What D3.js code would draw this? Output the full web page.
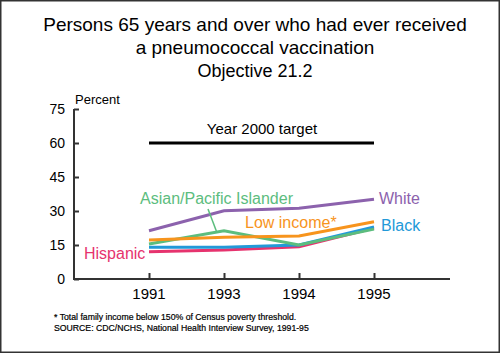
<!DOCTYPE html>
<html>
<head>
<meta charset="utf-8">
<script src="https://cdn.jsdelivr.net/npm/d3@7"></script>
<style>
  body { margin: 0; background: #fff; }
  svg { display: block; font-family: "Liberation Sans", Arial, Helvetica, sans-serif; }
</style>
</head>
<body>
<svg id="chart" width="500" height="353"></svg>
<script>
const years = ["1991", "1993", "1994", "1995"]
const yTicks = [0, 15, 30, 45, 60, 75]
const target = 60

const white = [21.3, 30.1, 31.2, 35.2]
const lowIncome = [17.2, 18.4, 19, 25.3]
const asianPI = [15.4, 21.3, 15, 22]
const black = [14, 14, 15, 23]
const hispanic = [12, 12.8, 14.2, 22.5]

const series = [
  { name: "Hispanic", values: hispanic, color: "#e6336e" },
  { name: "Black", values: black, color: "#2299d8" },
  { name: "Asian/Pacific Islander", values: asianPI, color: "#5cbd7e" },
  { name: "Low income*", values: lowIncome, color: "#f7941d" },
  { name: "White", values: white, color: "#8c62ad" }
]

const svg = d3.select("#chart")

// frame
svg.append("rect")
  .attr("x", 0.75).attr("y", 0.75)
  .attr("width", 498.5).attr("height", 351.5)
  .attr("fill", "none").attr("stroke", "#333").attr("stroke-width", 1.5)

// titles
svg.append("text").attr("x", 255).attr("y", 31).attr("text-anchor", "middle")
  .attr("font-size", 19).text("Persons 65 years and over who had ever received")
svg.append("text").attr("x", 255).attr("y", 54).attr("text-anchor", "middle")
  .attr("font-size", 19).text("a pneumococcal vaccination")
svg.append("text").attr("x", 255).attr("y", 77).attr("text-anchor", "middle")
  .attr("font-size", 18).text("Objective 21.2")

const x = d3.scalePoint().domain(years).range([149, 374])
const y = d3.scaleLinear().domain([0, 75]).range([279, 109])

// y axis
const yAxis = svg.append("g")
  .attr("transform", "translate(74,0)")
  .call(d3.axisRight(y).tickValues(yTicks).tickSize(5).tickFormat(""))
yAxis.select(".domain").attr("stroke", "#333").attr("stroke-width", 2)
  .attr("d", "M0," + y(75) + "V" + (y(0) + 1))
yAxis.selectAll(".tick line").attr("stroke", "#333").attr("stroke-width", 2)

svg.selectAll(".ylab")
  .data(yTicks)
  .enter().append("text")
    .attr("class", "ylab")
    .attr("x", 65)
    .attr("y", d => y(d) + 5)
    .attr("text-anchor", "end")
    .attr("font-size", 14)
    .text(d => d)

svg.append("text").attr("x", 75).attr("y", 104).attr("font-size", 13).text("Percent")

// x axis
const xAxis = svg.append("g")
  .attr("transform", "translate(0," + y(0) + ")")
  .call(d3.axisTop(x).tickSize(6).tickFormat(""))
xAxis.select(".domain").attr("stroke", "#333").attr("stroke-width", 2)
  .attr("d", "M73,0H450")
xAxis.selectAll(".tick line").attr("stroke", "#333").attr("stroke-width", 2)

svg.selectAll(".xlab")
  .data(years)
  .enter().append("text")
    .attr("class", "xlab")
    .attr("x", d => x(d))
    .attr("y", 299)
    .attr("text-anchor", "middle")
    .attr("font-size", 15)
    .text(d => d)

// target
svg.append("line")
  .attr("x1", x("1991")).attr("x2", x("1995"))
  .attr("y1", y(target)).attr("y2", y(target))
  .attr("stroke", "#000").attr("stroke-width", 3)
svg.append("text").attr("x", 262).attr("y", 134).attr("text-anchor", "middle")
  .attr("font-size", 15).text("Year 2000 target")

// lines
const line = d3.line().x((d, i) => x(years[i])).y(d => y(d))
svg.selectAll(".series")
  .data(series)
  .enter().append("path")
    .attr("class", "series")
    .attr("d", d => line(d.values))
    .attr("fill", "none")
    .attr("stroke", d => d.color)
    .attr("stroke-width", 3)

// labels
const labelPos = {
  "White": [379, 204],
  "Black": [381, 231],
  "Low income*": [245, 228],
  "Asian/Pacific Islander": [140, 204],
  "Hispanic": [84, 259]
}
series.forEach(s => {
  const p = labelPos[s.name]
  svg.append("text")
    .attr("x", p[0]).attr("y", p[1])
    .attr("font-size", 16).attr("fill", s.color)
    .text(s.name)
})

// leader for Asian/Pacific Islander
svg.append("line")
  .attr("x1", 208).attr("y1", 209).attr("x2", 217).attr("y2", y(asianPI[1]) + 2)
  .attr("stroke", "#5cbd7e").attr("stroke-width", 1.5)

// notes
svg.append("text").attr("x", 54).attr("y", 320).attr("font-size", 8.7)
  .attr("fill", "#000").attr("stroke", "#000").attr("stroke-width", 0.2)
  .text("* Total family income below 150% of Census poverty threshold.")
svg.append("text").attr("x", 54).attr("y", 331).attr("font-size", 8.7)
  .attr("fill", "#000").attr("stroke", "#000").attr("stroke-width", 0.2)
  .text("SOURCE: CDC/NCHS, National Health Interview Survey, 1991-95")
</script>
</body>
</html>
